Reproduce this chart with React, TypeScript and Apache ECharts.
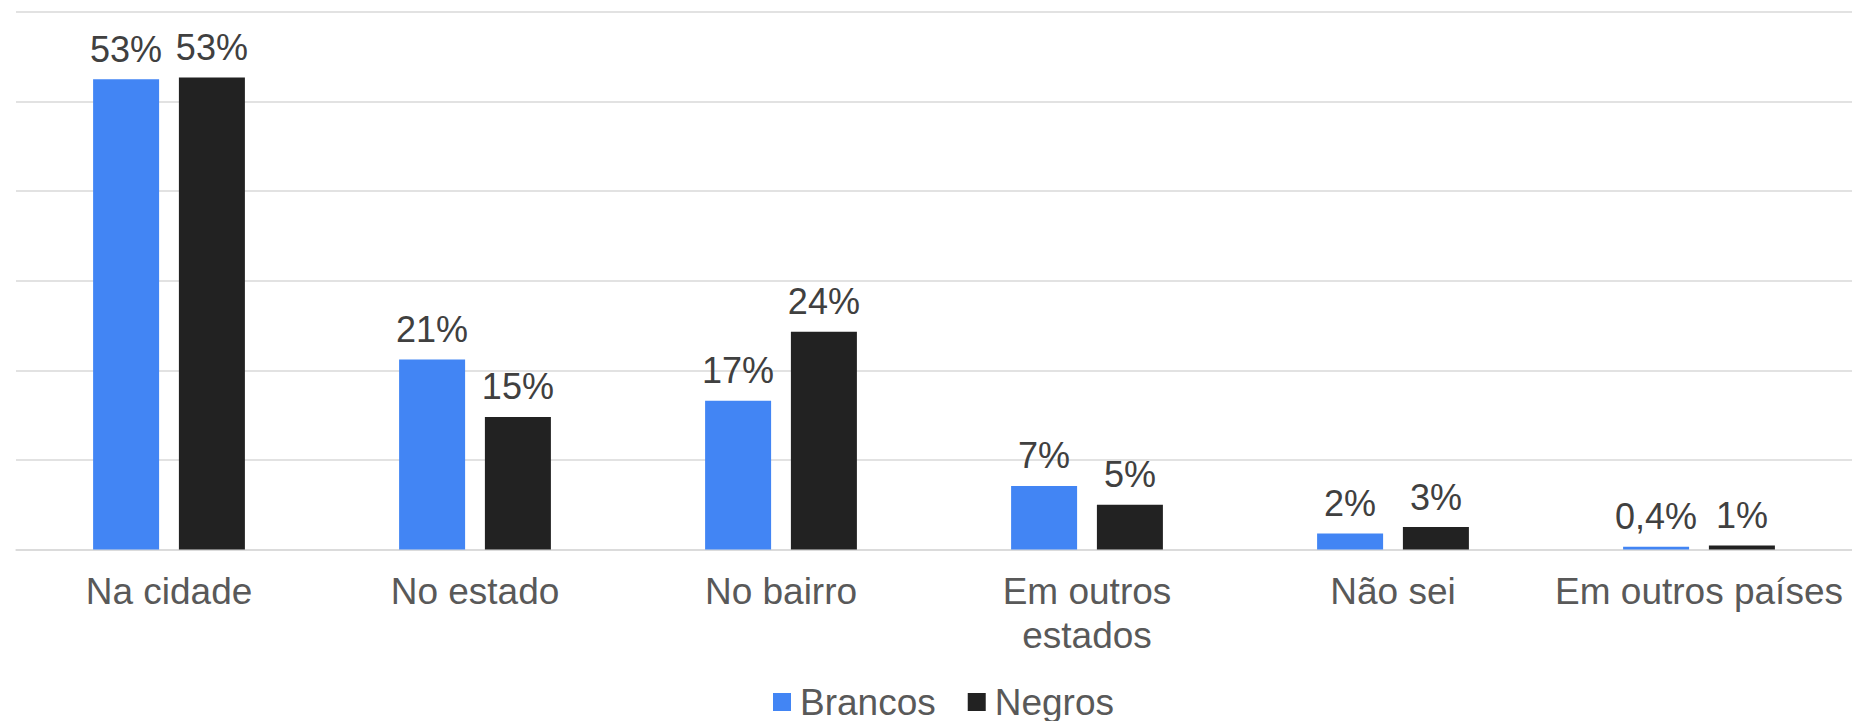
import React, { useEffect, useRef } from "react";
import * as echarts from "echarts";

const categories = ["Na cidade", "No estado", "No bairro", "Em outros\nestados", "Não sei", "Em outros países"];
const seriesNames = ["Brancos", "Negros"];
const brancos = [52.5, 21.2, 16.6, 7.1, 1.8, 0.3];
const negros = [52.7, 14.8, 24.3, 5.0, 2.5, 0.45];
const brancosLabels = ["53%", "21%", "17%", "7%", "2%", "0,4%"];
const negrosLabels = ["53%", "15%", "24%", "5%", "3%", "1%"];
const colors = ["#4285F4", "#222222"];

const FONT = "'Liberation Sans', Arial, sans-serif";

export default function App() {
  const ref = useRef<HTMLDivElement>(null);
  useEffect(() => {
    if (!ref.current) return;
    const chart = echarts.init(ref.current, undefined, { renderer: "svg" });
    const labelCfg = (labels: string[]) => ({
      show: true,
      position: "top",
      distance: 12,
      color: "#404040",
      fontSize: 36,
      fontFamily: FONT,
      formatter: (p: any) => labels[p.dataIndex],
    });
    chart.setOption({
      animation: false,
      textStyle: { fontFamily: FONT },
      grid: { left: 16, right: 0, top: 12, bottom: 171.5, containLabel: false },
      legend: {
        data: seriesNames,
        left: 768,
        top: 677,
        itemWidth: 18,
        itemHeight: 18,
        itemGap: 32,
        icon: "rect",
        textStyle: { fontSize: 37, lineHeight: 40, color: "#595959", fontFamily: FONT, padding: [0, 0, 0, 4] },
      },
      xAxis: {
        type: "category",
        data: categories,
        axisTick: { show: false },
        axisLine: { lineStyle: { color: "#d9d9d9", width: 1.5 } },
        axisLabel: {
          color: "#595959",
          fontSize: 37,
          fontFamily: FONT,
          lineHeight: 44,
          margin: 20,
          interval: 0,
        },
      },
      yAxis: {
        type: "value",
        min: 0,
        max: 60,
        interval: 10,
        axisLabel: { show: false },
        axisLine: { show: false },
        axisTick: { show: false },
        splitLine: { lineStyle: { color: "#d9d9d9", width: 1.5 } },
      },
      series: [
        {
          name: seriesNames[0],
          type: "bar",
          data: brancos,
          barWidth: 66,
          barGap: "30%",
          itemStyle: { color: colors[0] },
          label: labelCfg(brancosLabels),
        },
        {
          name: seriesNames[1],
          type: "bar",
          data: negros,
          barWidth: 66,
          barGap: "30%",
          itemStyle: { color: colors[1] },
          label: labelCfg(negrosLabels),
        },
      ],
    });
    return () => chart.dispose();
  }, []);
  return (
    <div
      ref={ref}
      style={{ position: "fixed", left: 0, top: 0, width: 1852, height: 721, background: "#fff" }}
    />
  );
}
